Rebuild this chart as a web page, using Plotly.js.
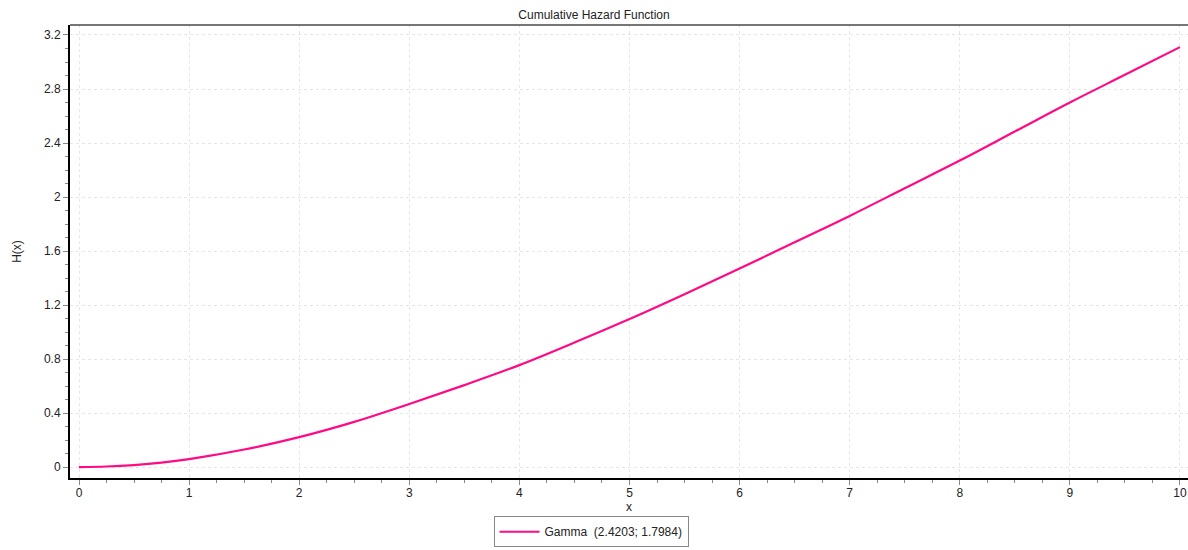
<!DOCTYPE html>
<html><head><meta charset="utf-8">
<script src="https://cdn.plot.ly/plotly-3.0.1.min.js"></script>
<style>html,body{margin:0;padding:0;background:#fff}#c{width:1188px;height:550px}</style>
</head><body><div id="c"></div>
<script>
var xVals = [0, 0.25, 0.5, 0.75, 1, 1.5, 2, 2.5, 3, 3.5, 4, 4.5, 5, 5.5, 6, 6.5, 7, 7.5, 8, 8.5, 9, 9.5, 10];
var hVals = [0, 0.004, 0.015, 0.033, 0.059, 0.13, 0.222, 0.335, 0.467, 0.607, 0.755, 0.922, 1.096, 1.28, 1.47, 1.665, 1.86, 2.065, 2.27, 2.485, 2.70, 2.905, 3.11];
var seriesName = "Gamma  (2.4203; 1.7984)";

var trace = {x: xVals, y: hVals, mode: 'lines', name: seriesName, line: {color: '#ff0a84', width: 2.2, shape: 'spline'}};
var axFont = {family: 'Liberation Sans, Arial, sans-serif', size: 12, color: '#222'};
var layout = {
  width: 1188, height: 550,
  margin: {l: 70, r: 0, t: 25, b: 72, autoexpand: false},
  paper_bgcolor: '#fff', plot_bgcolor: '#fff',
  title: {text: 'Cumulative Hazard Function', font: {family: 'Liberation Sans, Arial, sans-serif', size: 12, color: '#222'}, x: 0.5, xanchor: 'center', y: 0.973, yanchor: 'middle'},
  xaxis: {range: [-0.082, 10.073], dtick: 1, tick0: 0, ticks: 'outside', ticklen: 5, tickcolor: '#888', showline: true, linecolor: '#000', linewidth: 2,
    showgrid: true, gridcolor: '#e6e6e6', griddash: 'dot', zeroline: false, tickfont: axFont, ticklabelstandoff: -2,
    minor: {dtick: 0.25, ticklen: 3, tickcolor: '#888', showgrid: false},
    title: {text: 'x', font: axFont, standoff: 0}},
  yaxis: {range: [-0.081, 3.274], dtick: 0.4, tick0: 0, ticks: 'outside', ticklen: 5, tickcolor: '#888', showline: true, linecolor: '#000', linewidth: 2,
    showgrid: true, gridcolor: '#e6e6e6', griddash: 'dot', zeroline: false, tickfont: axFont,
    minor: {dtick: 0.1, ticklen: 3, tickcolor: '#888', showgrid: false},
    title: {text: 'H(x)', font: axFont, standoff: 20}},
  showlegend: true,
  legend: {orientation: 'h', x: 0.4975, xanchor: 'center', xref: 'container', y: 0.005, yanchor: 'bottom', yref: 'container', bordercolor: '#888', borderwidth: 1, font: axFont, itemwidth: 40, tracegroupgap: 0},
  shapes: [{type: 'line', xref: 'paper', yref: 'paper', x0: 0, x1: 1, y0: 1, y1: 1, line: {color: '#777', width: 2}}]
};
Plotly.newPlot('c', [trace], layout, {displayModeBar: false, staticPlot: true});
</script></body></html>
